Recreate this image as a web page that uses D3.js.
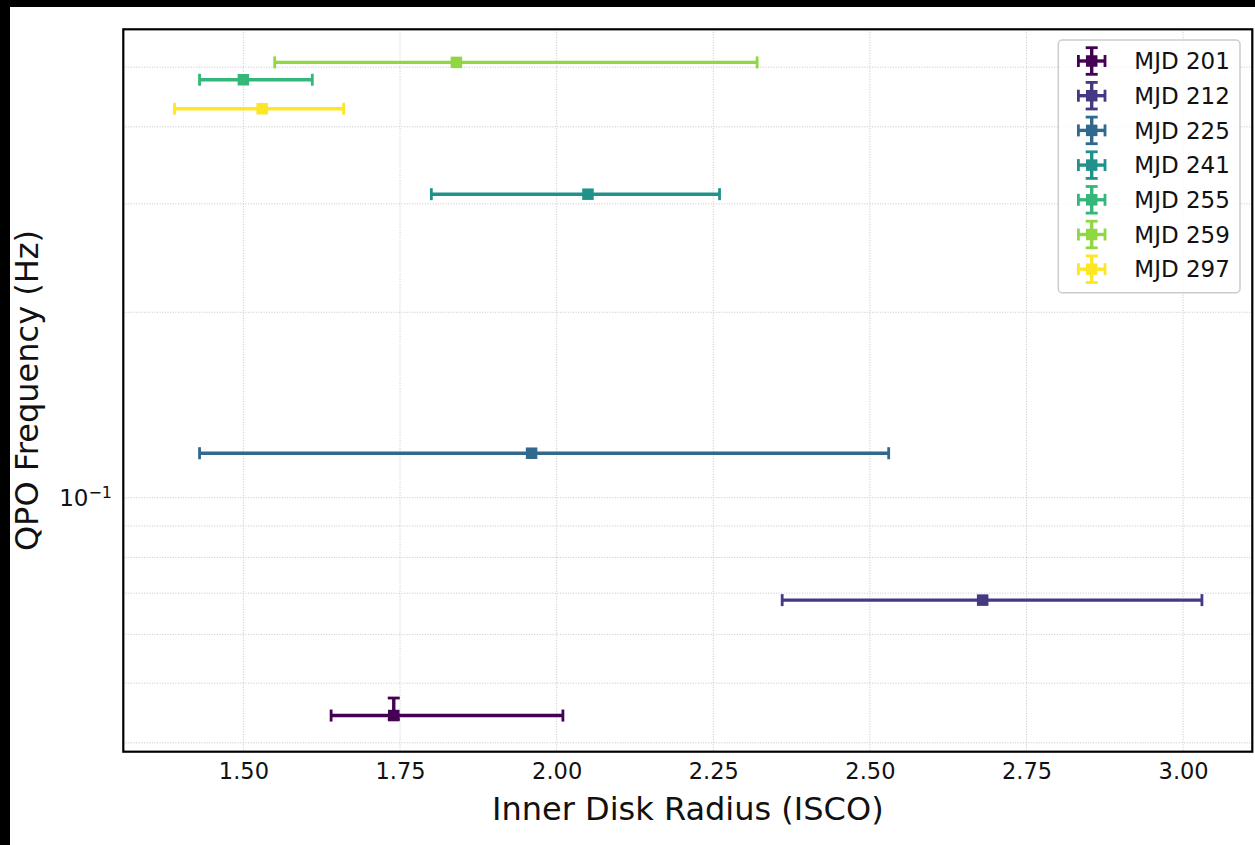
<!DOCTYPE html>
<html>
<head>
<meta charset="utf-8">
<script src="https://cdn.jsdelivr.net/npm/d3@7"></script>
<style>
  html, body { margin: 0; padding: 0; background: #000; }
  svg { display: block; }
  text { font-family: "DejaVu Sans", sans-serif; fill: #111; }
</style>
</head>
<body>
<svg id="chart" width="1255" height="845"></svg>
<script>
// Observation epochs, one error-bar series each
const labels = ["MJD 201", "MJD 212", "MJD 225", "MJD 241", "MJD 255", "MJD 259", "MJD 297"];
const colors = ["#440154", "#443983", "#31688e", "#21918c", "#35b779", "#90d743", "#fde725"];

// Inner disk radius (ISCO units) with lower / upper bounds
const radius     = [1.74, 2.68, 1.96, 2.05, 1.50, 1.84, 1.53];
const radiusLow  = [1.64, 2.36, 1.43, 1.80, 1.43, 1.55, 1.39];
const radiusHigh = [2.01, 3.03, 2.53, 2.26, 1.61, 2.32, 1.66];

// QPO frequency (Hz) with lower / upper bounds
const freq     = [0.0443, 0.0682, 0.1181, 0.311, 0.477, 0.509, 0.428];
const freqLow  = [0.0437, 0.0682, 0.1181, 0.311, 0.477, 0.509, 0.428];
const freqHigh = [0.0473, 0.0682, 0.1181, 0.311, 0.477, 0.509, 0.428];

// Axis ticks
const xTicks = [1.50, 1.75, 2.00, 2.25, 2.50, 2.75, 3.00];
const yMinorTicks = [0.04, 0.05, 0.06, 0.07, 0.08, 0.09, 0.2, 0.3, 0.4, 0.5];
const yMajorTicks = [0.1];

const svg = d3.select("#chart");

// page: black strip on top and left, white canvas
svg.append("rect").attr("x", 0).attr("y", 0).attr("width", 1255).attr("height", 845).attr("fill", "#000");
svg.append("rect").attr("x", 10).attr("y", 7).attr("width", 1245).attr("height", 838).attr("fill", "#fff");

const plot = { left: 123.3, top: 29.3, right: 1252.3, bottom: 751.7 };

const x = d3.scaleLinear().domain([1.3083, 3.1104]).range([plot.left, plot.right]);
const y = d3.scaleLog().domain([0.0387, 0.576]).range([plot.bottom, plot.top]);

const g = svg.append("g");

// grid
const gridStyle = sel => sel.attr("stroke", "#b8b8b8").attr("stroke-width", 0.8).attr("stroke-dasharray", "1,1.6");
g.selectAll("line.vgrid").data(xTicks).join("line").attr("class", "vgrid")
  .attr("x1", d => x(d)).attr("x2", d => x(d)).attr("y1", plot.top).attr("y2", plot.bottom).call(gridStyle);
g.selectAll("line.hgrid").data(yMajorTicks.concat(yMinorTicks)).join("line").attr("class", "hgrid")
  .attr("y1", d => y(d)).attr("y2", d => y(d)).attr("x1", plot.left).attr("x2", plot.right).call(gridStyle);

// x axis tick labels (no tick marks)
const xAxis = d3.axisBottom(x).tickValues(xTicks).tickFormat(d3.format(".2f")).tickSize(0).tickPadding(11);
const xg = svg.append("g").attr("transform", `translate(0,${plot.bottom})`).call(xAxis);
xg.select(".domain").remove();
xg.selectAll("text").style("font-size", "22.5px").attr("fill", "#111").attr("font-family", "DejaVu Sans");

// y axis: single labelled decade 10^-1
const yg = svg.append("g");
yg.selectAll("text").data(yMajorTicks).join("text")
  .attr("x", 112).attr("y", d => y(d) + 8.5).attr("text-anchor", "end")
  .style("font-size", "23px")
  .each(function() {
    const t = d3.select(this);
    t.append("tspan").text("10");
    t.append("tspan").attr("dy", -8.5).style("font-size", "16px").text("\u22121");
  });

// error bars
const data = labels.map((label, i) => ({
  label, color: colors[i],
  x: radius[i], x0: radiusLow[i], x1: radiusHigh[i],
  y: freq[i], y0: freqLow[i], y1: freqHigh[i]
}));

const cap = 6, lw = 3.4, capW = 2.8, ms = 11.5;
const series = g.selectAll("g.series").data(data).join("g").attr("class", "series");
series.each(function(d) {
  const s = d3.select(this);
  const cy = y(d.y), cx = x(d.x);
  s.append("line").attr("x1", x(d.x0)).attr("x2", x(d.x1)).attr("y1", cy).attr("y2", cy)
    .attr("stroke", d.color).attr("stroke-width", lw);
  [d.x0, d.x1].forEach(v => s.append("line").attr("x1", x(v)).attr("x2", x(v))
    .attr("y1", cy - cap).attr("y2", cy + cap).attr("stroke", d.color).attr("stroke-width", capW));
  if (d.y1 !== d.y0) {
    s.append("line").attr("x1", cx).attr("x2", cx).attr("y1", y(d.y0)).attr("y2", y(d.y1))
      .attr("stroke", d.color).attr("stroke-width", lw);
    [d.y0, d.y1].forEach(v => s.append("line").attr("y1", y(v)).attr("y2", y(v))
      .attr("x1", cx - cap).attr("x2", cx + cap).attr("stroke", d.color).attr("stroke-width", capW));
  }
  s.append("rect").attr("x", cx - ms / 2).attr("y", cy - ms / 2).attr("width", ms).attr("height", ms)
    .attr("fill", d.color);
});

// frame
svg.append("rect").attr("x", plot.left).attr("y", plot.top)
  .attr("width", plot.right - plot.left).attr("height", plot.bottom - plot.top)
  .attr("fill", "none").attr("stroke", "#000").attr("stroke-width", 2.2);

// legend
const leg = svg.append("g").attr("transform", "translate(1058.3,40)");
leg.append("rect").attr("width", 181.7).attr("height", 252.7).attr("rx", 4)
  .attr("fill", "#fff").attr("fill-opacity", 0.8).attr("stroke", "#cccccc").attr("stroke-width", 1.5);
const rowY = i => 21 + i * 34.7;
const items = leg.selectAll("g.item").data(data).join("g").attr("class", "item")
  .attr("transform", (d, i) => `translate(0,${rowY(i)})`);
items.each(function(d) {
  const s = d3.select(this);
  const hx = 33.4, half = 13.3;
  s.append("line").attr("x1", hx - half).attr("x2", hx + half).attr("y1", 0).attr("y2", 0)
    .attr("stroke", d.color).attr("stroke-width", lw);
  s.append("line").attr("y1", -half).attr("y2", half).attr("x1", hx).attr("x2", hx)
    .attr("stroke", d.color).attr("stroke-width", lw);
  [-half, half].forEach(o => {
    s.append("line").attr("x1", hx + o).attr("x2", hx + o).attr("y1", -cap).attr("y2", cap)
      .attr("stroke", d.color).attr("stroke-width", capW);
    s.append("line").attr("y1", o).attr("y2", o).attr("x1", hx - cap).attr("x2", hx + cap)
      .attr("stroke", d.color).attr("stroke-width", capW);
  });
  s.append("rect").attr("x", hx - ms / 2).attr("y", -ms / 2).attr("width", ms).attr("height", ms).attr("fill", d.color);
  s.append("text").attr("x", 76).attr("y", 8.2).style("font-size", "23px").text(d.label);
});

// axis titles
svg.append("text").attr("x", (plot.left + plot.right) / 2).attr("y", 820)
  .attr("text-anchor", "middle").style("font-size", "32px").text("Inner Disk Radius (ISCO)");
svg.append("text").attr("transform", `translate(38,${(plot.top + plot.bottom) / 2}) rotate(-90)`)
  .attr("text-anchor", "middle").style("font-size", "32px").text("QPO Frequency (Hz)");
</script>
</body>
</html>
